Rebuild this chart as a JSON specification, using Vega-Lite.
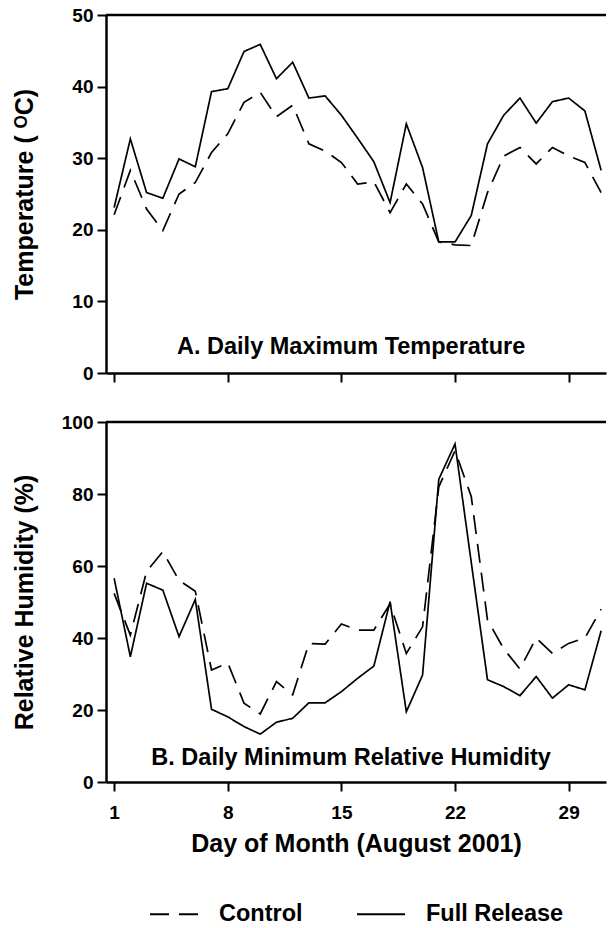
{
  "$schema": "https://vega.github.io/schema/vega-lite/v6.json",
  "padding": {"left": 12, "top": 6, "right": 0, "bottom": 70},
  "background": "white",
  "spacing": 30,
  "config": {
    "font": "Liberation Sans",
    "view": {"stroke": null},
    "axis": {
      "grid": false,
      "domainColor": "black",
      "domainWidth": 2.5,
      "tickColor": "black",
      "tickWidth": 2,
      "tickSize": 9,
      "labelFont": "Liberation Sans",
      "labelFontSize": 19,
      "labelFontWeight": "bold",
      "labelColor": "black",
      "labelPadding": 4,
      "titleFont": "Liberation Sans",
      "titleFontSize": 25,
      "titleFontWeight": "bold",
      "titleColor": "black"
    }
  },
  "datasets": {
    "temp": [
      {"day": 1, "series": "Control", "value": 22.1}, {"day": 2, "series": "Control", "value": 28.3}, {"day": 3, "series": "Control", "value": 22.9}, {"day": 4, "series": "Control", "value": 19.9}, {"day": 5, "series": "Control", "value": 25.0}, {"day": 6, "series": "Control", "value": 26.6}, {"day": 7, "series": "Control", "value": 30.8}, {"day": 8, "series": "Control", "value": 33.4}, {"day": 9, "series": "Control", "value": 37.8}, {"day": 10, "series": "Control", "value": 39.2}, {"day": 11, "series": "Control", "value": 35.8}, {"day": 12, "series": "Control", "value": 37.4}, {"day": 13, "series": "Control", "value": 32.0}, {"day": 14, "series": "Control", "value": 31.0}, {"day": 15, "series": "Control", "value": 29.4}, {"day": 16, "series": "Control", "value": 26.4}, {"day": 17, "series": "Control", "value": 26.7}, {"day": 18, "series": "Control", "value": 22.4}, {"day": 19, "series": "Control", "value": 26.4}, {"day": 20, "series": "Control", "value": 23.6}, {"day": 21, "series": "Control", "value": 18.3}, {"day": 22, "series": "Control", "value": 17.9}, {"day": 23, "series": "Control", "value": 17.8}, {"day": 24, "series": "Control", "value": 25.2}, {"day": 25, "series": "Control", "value": 30.3}, {"day": 26, "series": "Control", "value": 31.5}, {"day": 27, "series": "Control", "value": 29.2}, {"day": 28, "series": "Control", "value": 31.5}, {"day": 29, "series": "Control", "value": 30.3}, {"day": 30, "series": "Control", "value": 29.4}, {"day": 31, "series": "Control", "value": 25.2},
      {"day": 1, "series": "Full Release", "value": 23.1}, {"day": 2, "series": "Full Release", "value": 32.7}, {"day": 3, "series": "Full Release", "value": 25.2}, {"day": 4, "series": "Full Release", "value": 24.4}, {"day": 5, "series": "Full Release", "value": 29.9}, {"day": 6, "series": "Full Release", "value": 28.8}, {"day": 7, "series": "Full Release", "value": 39.3}, {"day": 8, "series": "Full Release", "value": 39.7}, {"day": 9, "series": "Full Release", "value": 44.9}, {"day": 10, "series": "Full Release", "value": 45.9}, {"day": 11, "series": "Full Release", "value": 41.1}, {"day": 12, "series": "Full Release", "value": 43.4}, {"day": 13, "series": "Full Release", "value": 38.4}, {"day": 14, "series": "Full Release", "value": 38.7}, {"day": 15, "series": "Full Release", "value": 36.0}, {"day": 16, "series": "Full Release", "value": 32.8}, {"day": 17, "series": "Full Release", "value": 29.5}, {"day": 18, "series": "Full Release", "value": 23.8}, {"day": 19, "series": "Full Release", "value": 34.8}, {"day": 20, "series": "Full Release", "value": 28.7}, {"day": 21, "series": "Full Release", "value": 18.3}, {"day": 22, "series": "Full Release", "value": 18.3}, {"day": 23, "series": "Full Release", "value": 22.0}, {"day": 24, "series": "Full Release", "value": 32.0}, {"day": 25, "series": "Full Release", "value": 36.0}, {"day": 26, "series": "Full Release", "value": 38.4}, {"day": 27, "series": "Full Release", "value": 34.9}, {"day": 28, "series": "Full Release", "value": 37.9}, {"day": 29, "series": "Full Release", "value": 38.4}, {"day": 30, "series": "Full Release", "value": 36.6}, {"day": 31, "series": "Full Release", "value": 28.3}
    ],
    "rh": [
      {"day": 1, "series": "Control", "value": 52.4}, {"day": 2, "series": "Control", "value": 40.8}, {"day": 3, "series": "Control", "value": 58.5}, {"day": 4, "series": "Control", "value": 64.0}, {"day": 5, "series": "Control", "value": 56.0}, {"day": 6, "series": "Control", "value": 53.0}, {"day": 7, "series": "Control", "value": 31.1}, {"day": 8, "series": "Control", "value": 33.1}, {"day": 9, "series": "Control", "value": 21.9}, {"day": 10, "series": "Control", "value": 18.9}, {"day": 11, "series": "Control", "value": 27.9}, {"day": 12, "series": "Control", "value": 24.2}, {"day": 13, "series": "Control", "value": 38.5}, {"day": 14, "series": "Control", "value": 38.3}, {"day": 15, "series": "Control", "value": 43.9}, {"day": 16, "series": "Control", "value": 42.2}, {"day": 17, "series": "Control", "value": 42.2}, {"day": 18, "series": "Control", "value": 49.5}, {"day": 19, "series": "Control", "value": 35.7}, {"day": 20, "series": "Control", "value": 43.1}, {"day": 21, "series": "Control", "value": 82.0}, {"day": 22, "series": "Control", "value": 92.0}, {"day": 23, "series": "Control", "value": 79.3}, {"day": 24, "series": "Control", "value": 45.0}, {"day": 25, "series": "Control", "value": 37.0}, {"day": 26, "series": "Control", "value": 31.4}, {"day": 27, "series": "Control", "value": 40.0}, {"day": 28, "series": "Control", "value": 35.7}, {"day": 29, "series": "Control", "value": 38.5}, {"day": 30, "series": "Control", "value": 40.0}, {"day": 31, "series": "Control", "value": 48.0},
      {"day": 1, "series": "Full Release", "value": 56.6}, {"day": 2, "series": "Full Release", "value": 34.8}, {"day": 3, "series": "Full Release", "value": 55.2}, {"day": 4, "series": "Full Release", "value": 53.3}, {"day": 5, "series": "Full Release", "value": 40.4}, {"day": 6, "series": "Full Release", "value": 50.7}, {"day": 7, "series": "Full Release", "value": 20.2}, {"day": 8, "series": "Full Release", "value": 18.1}, {"day": 9, "series": "Full Release", "value": 15.4}, {"day": 10, "series": "Full Release", "value": 13.3}, {"day": 11, "series": "Full Release", "value": 16.6}, {"day": 12, "series": "Full Release", "value": 17.7}, {"day": 13, "series": "Full Release", "value": 22.0}, {"day": 14, "series": "Full Release", "value": 22.0}, {"day": 15, "series": "Full Release", "value": 25.1}, {"day": 16, "series": "Full Release", "value": 28.8}, {"day": 17, "series": "Full Release", "value": 32.2}, {"day": 18, "series": "Full Release", "value": 50.1}, {"day": 19, "series": "Full Release", "value": 19.5}, {"day": 20, "series": "Full Release", "value": 29.7}, {"day": 21, "series": "Full Release", "value": 84.1}, {"day": 22, "series": "Full Release", "value": 93.9}, {"day": 23, "series": "Full Release", "value": 61.0}, {"day": 24, "series": "Full Release", "value": 28.4}, {"day": 25, "series": "Full Release", "value": 26.5}, {"day": 26, "series": "Full Release", "value": 24.0}, {"day": 27, "series": "Full Release", "value": 29.3}, {"day": 28, "series": "Full Release", "value": 23.3}, {"day": 29, "series": "Full Release", "value": 27.0}, {"day": 30, "series": "Full Release", "value": 25.6}, {"day": 31, "series": "Full Release", "value": 42.0}
    ]
  },
  "resolve": {"legend": {"strokeDash": "independent"}},
  "vconcat": [
    {
      "width": 500,
      "height": 358,
      "layer": [
        {
          "data": {"name": "temp"},
          "mark": {"type": "line", "color": "black", "strokeWidth": 1.7},
          "encoding": {
            "x": {"field": "day", "type": "quantitative", "scale": {"domain": [0.5, 31.3], "nice": false, "zero": false}, "axis": {"values": [1, 8, 15, 22, 29], "labels": false, "title": null}},
            "y": {"field": "value", "type": "quantitative", "scale": {"domain": [0, 50], "nice": false}, "axis": {"values": [0, 10, 20, 30, 40, 50], "title": "Temperature ( ᴼC)", "titleX": -82, "titleY": 179, "titleBaseline": "middle"}},
            "strokeDash": {"field": "series", "type": "nominal", "scale": {"domain": ["Control", "Full Release"], "range": [[19, 10], [1, 0]]}, "legend": null}
          }
        },
        {
          "data": {"values": [{}]},
          "mark": {"type": "rule", "color": "black", "strokeWidth": 2.5},
          "encoding": {"y": {"datum": 50}}
        },
        {
          "data": {"values": [{"label": "A. Daily Maximum Temperature"}]},
          "mark": {"type": "text", "fontSize": 23.5, "fontWeight": "bold", "color": "black", "font": "Liberation Sans"},
          "encoding": {"x": {"datum": 15.6}, "y": {"datum": 3.6}, "text": {"field": "label"}}
        }
      ]
    },
    {
      "width": 500,
      "height": 360,
      "layer": [
        {
          "data": {"name": "rh"},
          "mark": {"type": "line", "color": "black", "strokeWidth": 1.7},
          "encoding": {
            "x": {"field": "day", "type": "quantitative", "scale": {"domain": [0.5, 31.3], "nice": false, "zero": false}, "axis": {"values": [1, 8, 15, 22, 29], "title": "Day of Month (August 2001)", "labelPadding": 12, "titlePadding": 9}},
            "y": {"field": "value", "type": "quantitative", "scale": {"domain": [0, 100], "nice": false}, "axis": {"values": [0, 20, 40, 60, 80, 100], "title": "Relative Humidity (%)", "titleX": -82, "titleY": 180, "titleBaseline": "middle"}},
            "strokeDash": {"field": "series", "type": "nominal", "scale": {"domain": ["Control", "Full Release"], "range": [[19, 10], [1, 0]]},
              "legend": {"orient": "none", "legendX": 43, "legendY": 467, "direction": "horizontal", "title": null, "symbolType": "stroke", "symbolSize": 2304, "symbolStrokeWidth": 2, "symbolStrokeColor": "black", "labelFontSize": 23.5, "labelFontWeight": "bold", "labelColor": "black", "labelFont": "Liberation Sans", "labelOffset": 20, "columnPadding": 50}}
          }
        },
        {
          "data": {"values": [{}]},
          "mark": {"type": "rule", "color": "black", "strokeWidth": 2.5},
          "encoding": {"y": {"datum": 100}}
        },
        {
          "data": {"values": [{"label": "B. Daily Minimum Relative Humidity"}]},
          "mark": {"type": "text", "fontSize": 23.5, "fontWeight": "bold", "color": "black", "font": "Liberation Sans"},
          "encoding": {"x": {"datum": 15.6}, "y": {"datum": 6.7}, "text": {"field": "label"}}
        }
      ]
    }
  ]
}
